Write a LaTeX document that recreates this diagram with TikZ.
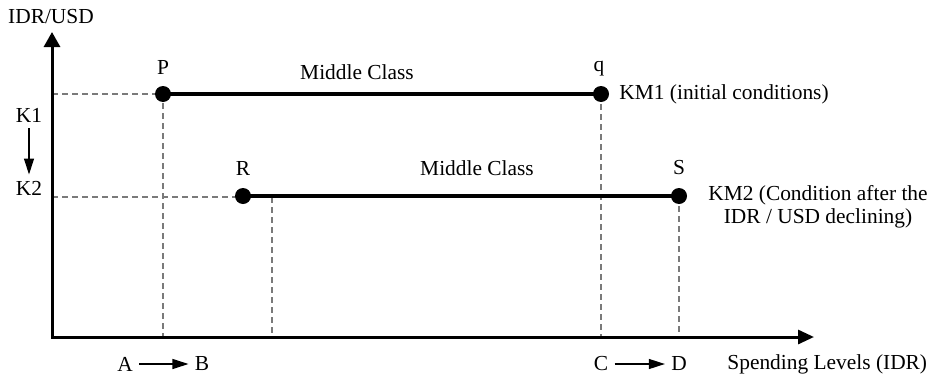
\documentclass[tikz,border=0pt]{standalone}
\usepackage{fontspec}
\setmainfont{Liberation Serif}
\usepackage{xcolor}
\usepackage{tikz}
\usetikzlibrary{arrows.meta,positioning,calc}
\definecolor{ink}{HTML}{000000}
\definecolor{guidegray}{HTML}{7A7A7A}
\definecolor{white}{HTML}{FFFFFF}

\begin{document}
\begin{tikzpicture}[x=0.5pt,y=-0.5pt, every node/.style={font=\fontsize{10.7}{11.4}\selectfont,inner sep=1pt,text=ink}, dot/.style={circle,fill=ink,minimum size=8pt,inner sep=0pt}, axis/.style={{Triangle[length=7.5pt,width=8pt]}-{Triangle[length=8pt,width=7pt]},line width=1.5pt,ink}, band/.style={line width=2.2pt,ink}, guide/.style={guidegray,line width=.6pt,dash pattern=on 3pt off 2pt}, shiftarrow/.style={-{Triangle[length=8pt,width=5pt]},line width=.6pt,ink,shorten <=2pt,shorten >=2pt}]
\useasboundingbox (0,0) rectangle (930,380);
% axes
\coordinate (o) at (52,337);
\coordinate (ytop) at (52,32);
\coordinate (xend) at (814,337);
\coordinate (rk) at (272,197);
\node (ylab) at (51,17) {IDR/USD};
\node (xlab) [anchor=west] at (725,364) {Spending Levels (IDR)};
% guide lines
\coordinate (pc) at (163,94);
\coordinate (qc) at (601,94);
\coordinate (rc) at (243,196);
\coordinate (sc) at (679,196);
\draw[guide] (o |- pc) -- (pc) -- (pc |- o);
\draw[guide] (qc) -- (qc |- o);
\draw[guide] (sc) -- (sc |- o);
\draw[guide] (o |- rk) -- (rk) -- (rk |- o);
\draw[axis] (ytop) -- (o) -- (xend);
% middle class bands
\node[dot] (P) at (pc) {};
\node[dot] (q) at (qc) {};
\node[dot] (R) at (rc) {};
\node[dot] (S) at (sc) {};
\draw[band] (P.center) -- (q.center);
\draw[band] (R.center) -- (S.center);
\node (Plab) at (163,67) {P};
\node (qlab) at (599,69) {q};
\node (Rlab) at (243,168) {R};
\node (Slab) at (679,168) {S};
\node (mc1) at (357,72) {Middle Class};
\node (mc2) at (477,168) {Middle Class};
\node (km1) [anchor=west] at (617,94) {KM1 (initial conditions)};
\node (km2) [align=center] at (818,207) {KM2 (Condition after the\\IDR / USD declining)};
% shifts
\node (k1) at (29,115) {K1};
\node (k2) at (29,188) {K2};
\draw[shiftarrow] (k1) -- (k2);
\node (a) at (125,364) {A};
\node (b) at (202,364) {B};
\draw[shiftarrow] (a) -- (b);
\node (c) at (601,364) {C};
\node (d) at (679,364) {D};
\draw[shiftarrow] (c) -- (d);
\end{tikzpicture}
\end{document}
